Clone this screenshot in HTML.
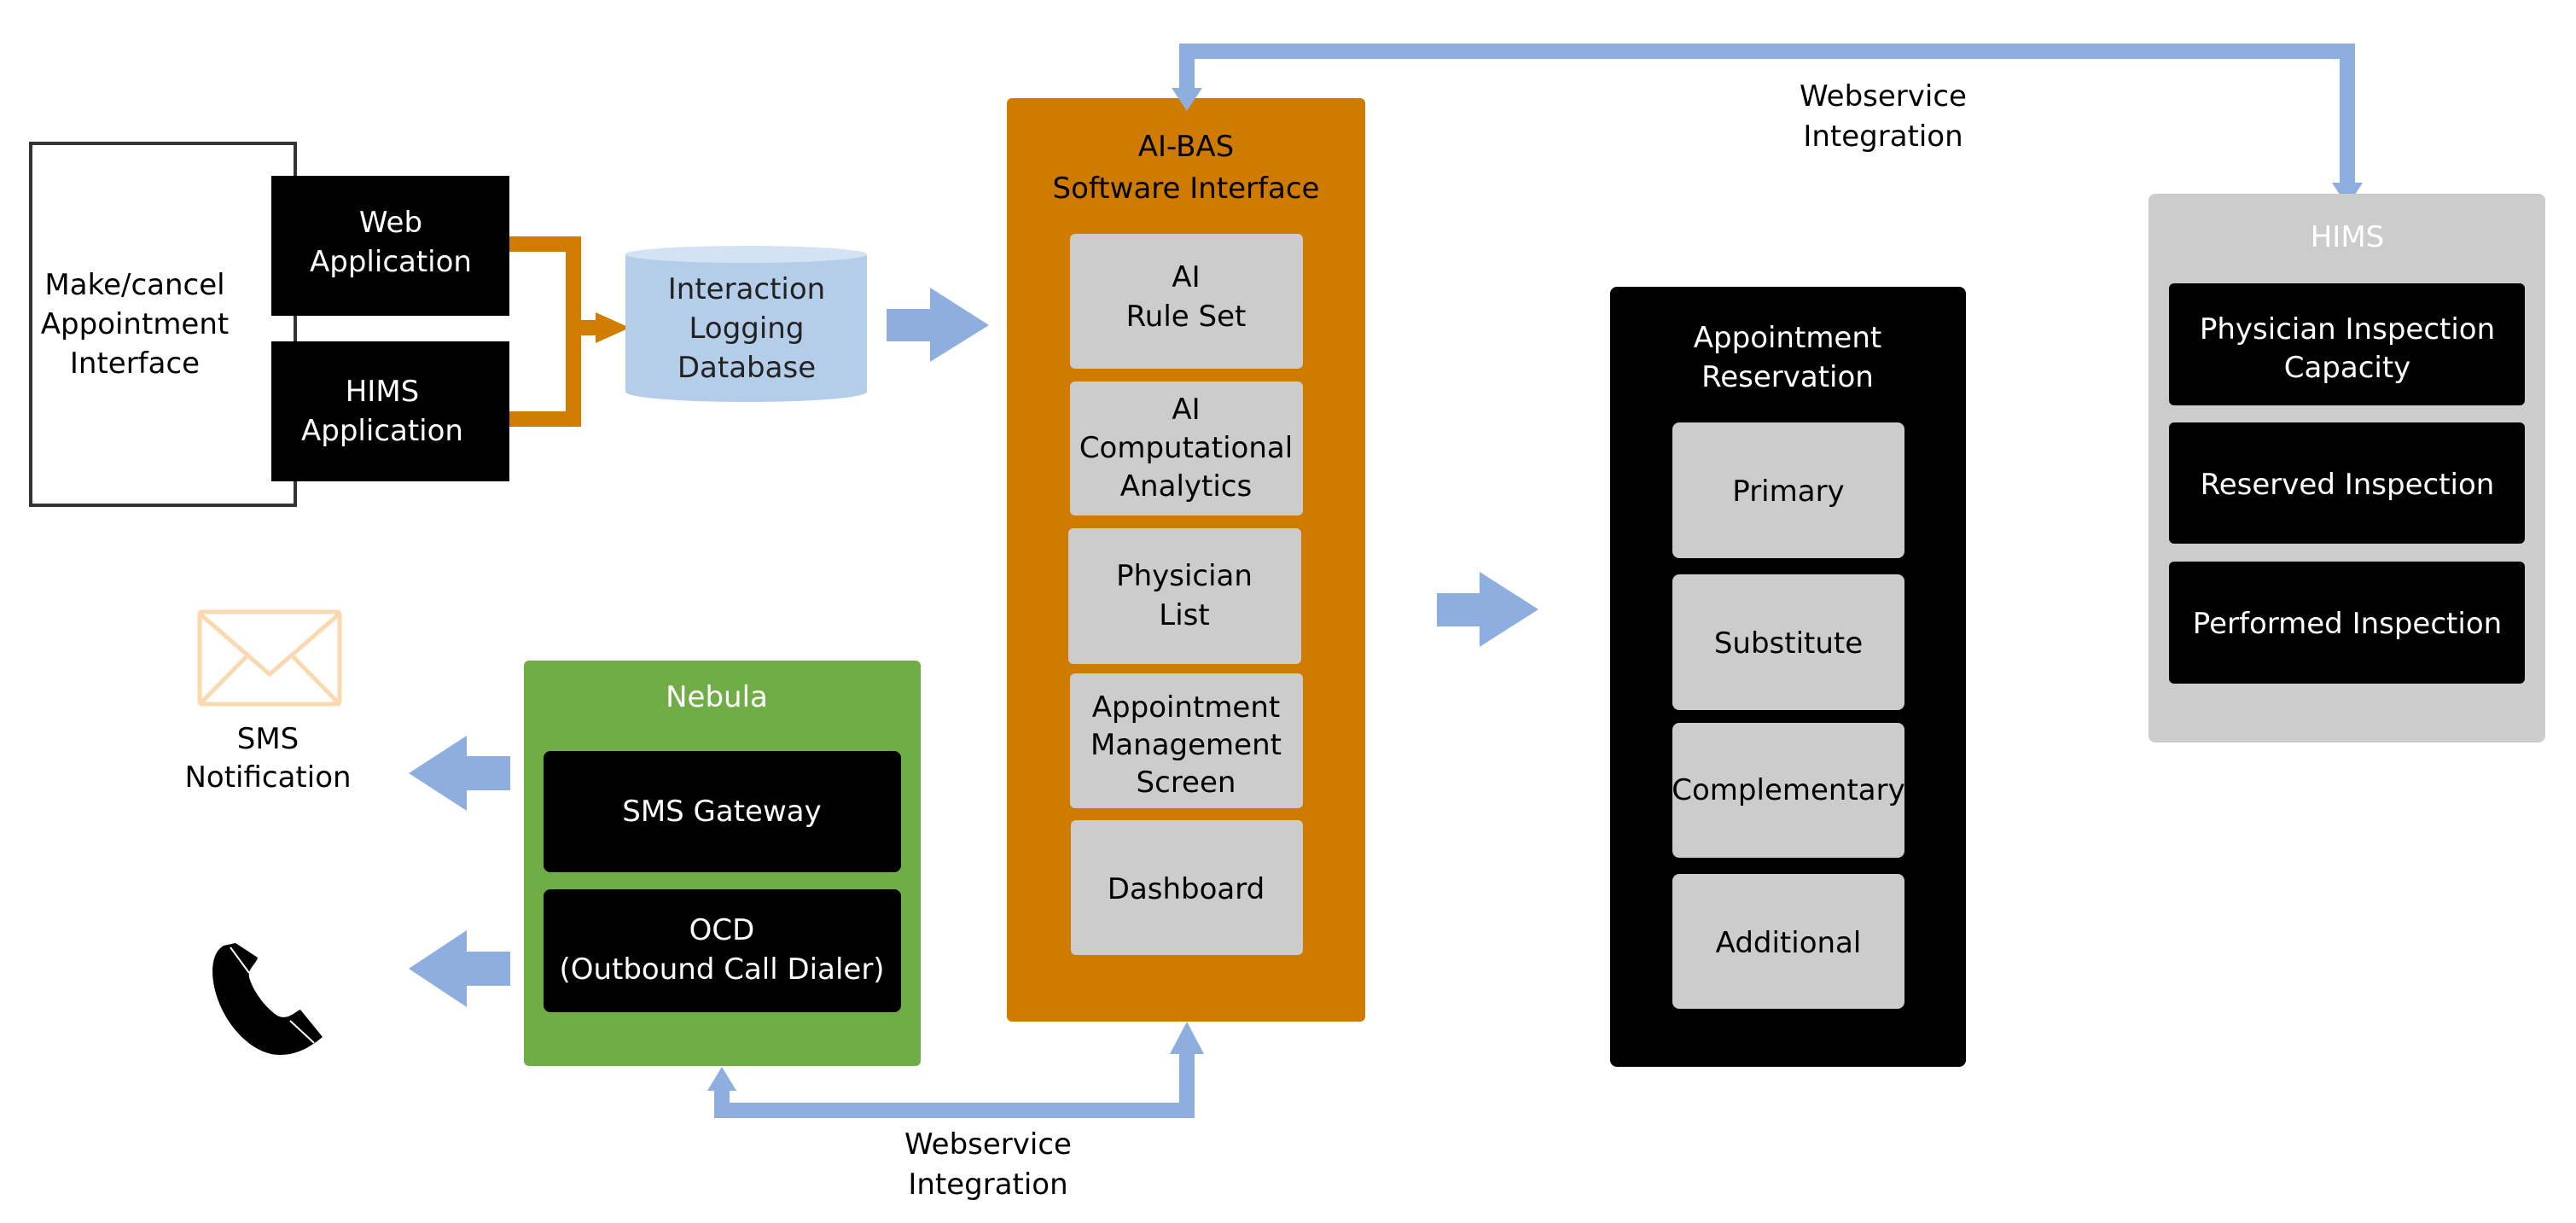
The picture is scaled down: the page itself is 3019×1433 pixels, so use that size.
<!DOCTYPE html>
<html><head><meta charset="utf-8"><style>
html,body{margin:0;padding:0;background:#fff;}
svg{display:block;}
text{font-family:"DejaVu Sans","Liberation Sans",sans-serif;font-size:34px;text-anchor:middle;}
</style></head><body>
<svg width="3019" height="1433" viewBox="0 0 3019 1433" xmlns="http://www.w3.org/2000/svg">
<rect x="36" y="168" width="310" height="424" fill="#fff" stroke="#333" stroke-width="4"/>
<text x="158" y="345" font-size="36">Make/cancel</text>
<text x="158" y="391" font-size="36">Appointment</text>
<text x="158" y="437" font-size="36">Interface</text>
<rect x="318" y="206" width="279" height="164" fill="#000"/>
<text x="458" y="272" fill="#fff">Web</text>
<text x="458" y="318" fill="#fff">Application</text>
<rect x="318" y="400" width="279" height="164" fill="#000"/>
<text x="448" y="470" fill="#fff">HIMS</text>
<text x="448" y="516" fill="#fff">Application</text>
<path d="M597 286 H672 V491 H597" fill="none" stroke="#d07c00" stroke-width="18"/>
<rect x="672" y="375" width="28" height="18" fill="#d07c00"/>
<polygon points="698,366 738,384 698,402" fill="#d07c00"/>
<path d="M733 298 V459 A141 12 0 0 0 1016 459 V298 Z" fill="#b4cde9"/>
<ellipse cx="874.5" cy="298" rx="141.5" ry="10" fill="#d3e3f4"/>
<text x="875" y="350" fill="#222">Interaction</text>
<text x="875" y="396" fill="#222">Logging</text>
<text x="875" y="442" fill="#222">Database</text>
<polygon points="1039,362 1090,362 1090,337 1159,381 1090,424 1090,400 1039,400" fill="#8eaee0"/>
<rect x="1180" y="115" width="420" height="1082" rx="6" fill="#cf7b00"/>
<text x="1390" y="183" font-size="36">AI-BAS</text>
<text x="1390" y="232" font-size="36">Software Interface</text>
<g fill="#cccccc">
<rect x="1254" y="274" width="273" height="158" rx="6"/>
<rect x="1254" y="447" width="273" height="157" rx="6"/>
<rect x="1252" y="619" width="273" height="159" rx="6"/>
<rect x="1254" y="789" width="273" height="158" rx="6"/>
<rect x="1255" y="961" width="272" height="158" rx="6"/>
</g>
<text x="1390" y="336">AI</text>
<text x="1390" y="382">Rule Set</text>
<text x="1390" y="491">AI</text>
<text x="1390" y="536">Computational</text>
<text x="1390" y="581">Analytics</text>
<text x="1388" y="686">Physician</text>
<text x="1388" y="732">List</text>
<text x="1390" y="840" font-size="33">Appointment</text>
<text x="1390" y="884" font-size="33">Management</text>
<text x="1390" y="928" font-size="33">Screen</text>
<text x="1390" y="1053">Dashboard</text>
<path d="M1391 105 V60 H2751 V218" fill="none" stroke="#8eaee0" stroke-width="18"/>
<polygon points="1373,103 1409,103 1391,130" fill="#8eaee0"/>
<polygon points="2733,214 2769,214 2751,242" fill="#8eaee0"/>
<text x="2207" y="124">Webservice</text>
<text x="2207" y="171">Integration</text>
<rect x="2518" y="227" width="465" height="643" rx="8" fill="#cccccc"/>
<text x="2751" y="289" fill="#fff">HIMS</text>
<g fill="#000">
<rect x="2542" y="332" width="417" height="143" rx="6"/>
<rect x="2542" y="495" width="417" height="142" rx="6"/>
<rect x="2542" y="658" width="417" height="143" rx="6"/>
</g>
<g fill="#fff">
<text x="2751" y="397">Physician Inspection</text>
<text x="2751" y="442">Capacity</text>
<text x="2751" y="579">Reserved Inspection</text>
<text x="2751" y="742">Performed Inspection</text>
</g>
<polygon points="1684,695 1734,695 1734,670 1803,714 1734,758 1734,734 1684,734" fill="#8eaee0"/>
<rect x="1887" y="336" width="417" height="914" rx="8" fill="#000"/>
<text x="2095" y="407" fill="#fff">Appointment</text>
<text x="2095" y="453" fill="#fff">Reservation</text>
<g fill="#cccccc">
<rect x="1960" y="495" width="272" height="159" rx="8"/>
<rect x="1960" y="673" width="272" height="159" rx="8"/>
<rect x="1960" y="847" width="272" height="158" rx="8"/>
<rect x="1960" y="1024" width="272" height="158" rx="8"/>
</g>
<text x="2096" y="587">Primary</text>
<text x="2096" y="765">Substitute</text>
<text x="2096" y="937" font-size="30">Complementary</text>
<text x="2096" y="1116">Additional</text>
<rect x="614" y="774" width="465" height="475" rx="6" fill="#70ad47"/>
<text x="840" y="828" fill="#fff">Nebula</text>
<rect x="637" y="880" width="419" height="142" rx="8" fill="#000"/>
<rect x="637" y="1042" width="419" height="144" rx="8" fill="#000"/>
<text x="846" y="962" fill="#fff">SMS Gateway</text>
<text x="846" y="1101" fill="#fff">OCD</text>
<text x="846" y="1147" fill="#fff">(Outbound Call Dialer)</text>
<polygon points="598,886 547,886 547,862 479,906 547,950 547,926 598,926" fill="#8eaee0"/>
<polygon points="598,1115 547,1115 547,1090 479,1135 547,1180 547,1155 598,1155" fill="#8eaee0"/>
<g fill="none" stroke="#fbd9b0" stroke-width="5">
<rect x="234" y="717" width="164" height="108" rx="3"/>
<polyline points="234,719 316,790 398,719"/>
<line x1="234" y1="825" x2="290" y2="768"/>
<line x1="398" y1="825" x2="342" y2="768"/>
</g>
<text x="314" y="877">SMS</text>
<text x="314" y="922">Notification</text>
<path d="M262 1108 C245 1118 246 1150 258 1178 C272 1210 300 1236 328 1236 C345 1236 360 1230 378 1215 L352 1183 C345 1186 337 1196 325 1190 C310 1180 296 1160 292 1145 C290 1135 300 1130 302 1122 L276 1105 Z" fill="#000"/>
<line x1="270" y1="1110" x2="292" y2="1140" stroke="#fff" stroke-width="2"/>
<line x1="340" y1="1196" x2="368" y2="1222" stroke="#fff" stroke-width="2"/>
<path d="M846 1275 V1301 H1391 V1233" fill="none" stroke="#8eaee0" stroke-width="18"/>
<polygon points="829,1278 863,1278 846,1250" fill="#8eaee0"/>
<polygon points="1371,1235 1411,1235 1391,1197" fill="#8eaee0"/>
<text x="1158" y="1352">Webservice</text>
<text x="1158" y="1399">Integration</text>
</svg>
</body></html>
